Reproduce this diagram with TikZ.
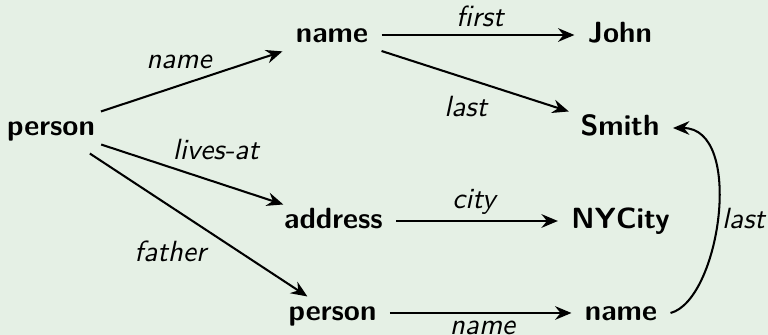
\documentclass[tikz,border=0pt]{standalone}
\usetikzlibrary{arrows.meta}
\definecolor{bgc}{RGB}{229,240,229}
\begin{document}
\begin{tikzpicture}[x=0.366pt,y=-0.366pt,
  obj/.style={font=\fontsize{10.7}{13}\selectfont\sffamily\bfseries,
    text height=7.3pt, text depth=2pt, inner xsep=4.75pt, inner ysep=1.2pt},
  lbl/.style={font=\fontsize{10.7}{13}\selectfont\sffamily\slshape, inner sep=2pt},
  arr/.style={-{Stealth[length=6pt,width=5pt,inset=2pt]}, line width=0.75pt}]
\fill[bgc] (0,0) rectangle (768,335);
\useasboundingbox (0,0) rectangle (768,335);
\node[obj] (p)  at (51,128) {person};
\node[obj] (n1) at (332,35) {name};
\node[obj] (jo) at (620,35) {John};
\node[obj] (sm) at (620,128) {Smith};
\node[obj] (ad) at (333.5,221) {address};
\node[obj] (ny) at (620.5,221) {NYCity};
\node[obj] (p2) at (332.5,313) {person};
\node[obj] (n2) at (621,313) {name};
\draw[arr] (p) -- (n1) node[lbl, pos=0.43, above=3.9pt] {name};
\draw[arr] (p) -- (ad) node[lbl, pos=0.63, above=6pt] {lives-at};
\draw[arr, shorten <=6pt] (p) -- (p2) node[lbl, pos=0.59, anchor=north east] {father};
\draw[arr] (n1) -- (jo) node[lbl, pos=0.51, above=0.5pt] {first};
\draw[arr] (n1) -- (sm) node[lbl, pos=0.45, below=4.3pt] {last};
\draw[arr] (ad) -- (ny) node[lbl, pos=0.48, above=0pt] {city};
\draw[arr] (p2) -- (n2) node[lbl, pos=0.51, below=0.5pt] {name};
\draw[arr] (n2.east) .. controls (720,300) and (745,128) .. (sm.east) node[lbl, pos=0.49, right=-0.5pt] {last};
\end{tikzpicture}
\end{document}
